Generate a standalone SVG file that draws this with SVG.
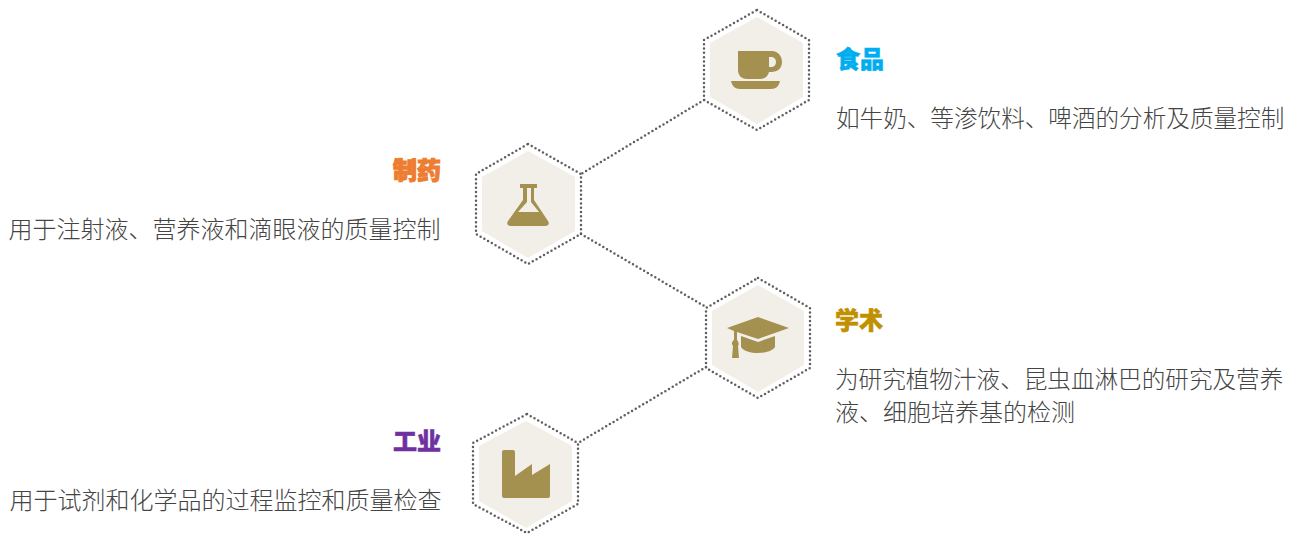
<svg xmlns="http://www.w3.org/2000/svg" width="1297" height="534" viewBox="0 0 1297 534">
<style>
text{font-family:"Noto Sans CJK SC","Noto Sans",sans-serif}
.d{font-size:24px;font-weight:300;fill:#444}
.n{font-size:23.6px}
.t{font-size:24px;font-weight:900;stroke-width:.5}
.e{text-anchor:end}
.o{fill:none;stroke:#5f5f5f;stroke-width:2.5;stroke-dasharray:0 4.3;stroke-linecap:round}
.h{fill:#f1efe7}
.i{fill:#a5914f}
</style>
<rect width="1297" height="534" fill="#fff"/>
<g id="connectors" class="o">
<path d="M704 100L581 174"/>
<path d="M581 234L706 307"/>
<path d="M706 367L578 443"/>
</g>
<g id="food">
<polygon class="o" points="757,10 809,40 809,100 757,130 704,100 704,40"/>
<polygon class="h" points="757,17 803,43 803,97 757,124 710,97 710,43"/>
<path class="i" fill-rule="evenodd" d="M738 51H772C778 51 782 56 782 62C782 68 778 72 771 72H769C768 76 765 79 760 79H747C741 79 738 75 738 70ZM769 57V67H771C774 67 776 65 776 62C776 59 774 57 771 57ZM731 81H780C779 86 776 89 771 89H740C735 89 732 86 731 81Z"/>
<text class="t" x="836" y="68" fill="#00aeef" stroke="#00aeef">食品</text>
<text class="d n" x="836" y="127">如牛奶、等渗饮料、啤酒的分析及质量控制</text>
</g>
<g id="pharma">
<polygon class="o" points="528,144 581,174 581,234 528,264 476,234 476,174"/>
<polygon class="h" points="528,151 575,177 575,231 528,258 482,231 482,177"/>
<path class="i" fill-rule="evenodd" d="M520 184H537V188H534V200L548 221C550 224 548 226 545 226H511C508 226 506 224 508 221L523 200V188H520ZM527 188V202L518 212H539L531 202V188Z"/>
<text class="t e" x="441" y="179" fill="#ed7d31" stroke="#ed7d31" style="stroke-width:1">制药</text>
<text class="d e" x="440.500" y="238">用于注射液、营养液和滴眼液的质量控制</text>
</g>
<g id="academic">
<polygon class="o" points="758,278 810,308 810,368 758,398 706,368 706,308"/>
<polygon class="h" points="758,285 804,311 804,365 758,392 712,365 712,311"/>
<path class="i" d="M758 317L789 328L758 339L737 332V340C739 342 739 345 738 346L739 358H732L733 346C731 344 732 341 734 340V331L727 328ZM741 336L758 342L775 336V347C770 355 746 355 741 347Z"/>
<text class="t" x="835" y="329" fill="#bf9000" stroke="#bf9000">学术</text>
<text class="d n" x="835" y="388">为研究植物汁液、昆虫血淋巴的研究及营养</text>
<text class="d" x="835" y="421">液、细胞培养基的检测</text>
</g>
<g id="industry">
<polygon class="o" points="527,414 578,443 578,504 527,533 473,504 473,443"/>
<polygon class="h" points="526,421 572,446 572,501 526,528 479,501 479,446"/>
<path class="i" d="M504 450H513Q515 450 515 452V476L532 464V475L550 464V496Q550 498 548 498H504Q502 498 502 496V452Q502 450 504 450Z"/>
<text class="t e" x="441" y="450" fill="#7030a0" stroke="#7030a0">工业</text>
<text class="d e" x="441.500" y="509">用于试剂和化学品的过程监控和质量检查</text>
</g>
</svg>
